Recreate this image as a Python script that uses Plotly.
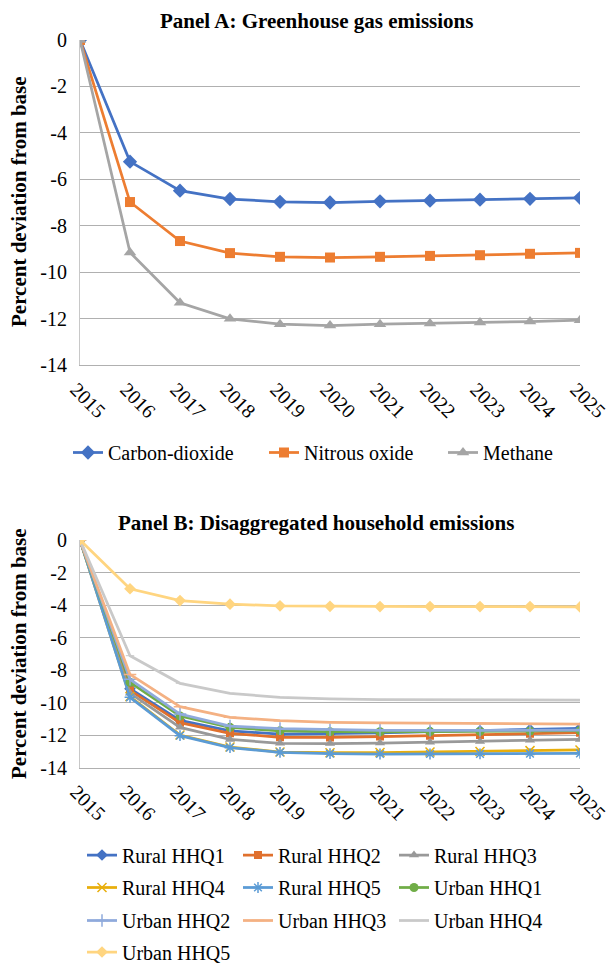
import plotly.graph_objects as go

years = [2015, 2016, 2017, 2018, 2019, 2020, 2021, 2022, 2023, 2024, 2025]

# Panel A
co2 = [0, -5.24, -6.49, -6.85, -6.97, -7.00, -6.95, -6.92, -6.88, -6.84, -6.80]
n2o = [0, -6.98, -8.66, -9.18, -9.34, -9.37, -9.34, -9.30, -9.27, -9.21, -9.17]
ch4 = [0, -9.15, -11.32, -12.01, -12.24, -12.30, -12.24, -12.21, -12.17, -12.13, -12.07]

# Panel B
rural_q1 = [0, -9.15, -11.10, -11.74, -11.95, -11.93, -11.87, -11.80, -11.74, -11.67, -11.59]
rural_q2 = [0, -9.25, -11.24, -11.90, -12.14, -12.15, -12.10, -12.05, -12.00, -11.93, -11.86]
rural_q3 = [0, -9.43, -11.53, -12.27, -12.51, -12.53, -12.50, -12.45, -12.40, -12.33, -12.27]
rural_q4 = [0, -9.64, -12.00, -12.74, -13.05, -13.09, -13.08, -13.05, -13.01, -12.96, -12.92]
rural_q5 = [0, -9.68, -12.04, -12.78, -13.07, -13.15, -13.17, -13.17, -13.16, -13.15, -13.13]
urban_q1 = [0, -8.76, -10.83, -11.53, -11.74, -11.80, -11.80, -11.79, -11.78, -11.76, -11.73]
urban_q2 = [0, -8.57, -10.71, -11.45, -11.61, -11.68, -11.71, -11.72, -11.72, -11.71, -11.70]
urban_q3 = [0, -8.27, -10.26, -10.91, -11.12, -11.22, -11.26, -11.28, -11.30, -11.31, -11.33]
urban_q4 = [0, -7.12, -8.82, -9.44, -9.68, -9.78, -9.82, -9.83, -9.84, -9.85, -9.85]
urban_q5 = [0, -3.00, -3.73, -3.95, -4.05, -4.08, -4.10, -4.10, -4.10, -4.10, -4.12]

y_ticks = [0, -2, -4, -6, -8, -10, -12, -14]

FONT = "Liberation Serif, Times New Roman, serif"
W, H = 613, 964
L, R = 80, 33
PW = W - L - R

def px_x(x):
    return (x - L) / PW

def px_y(y):
    return 1 - y / H

fig = go.Figure()

def add(x, y, name, color, symbol, size, xa, ya, legend, lw=None, mline=0):
    fig.add_trace(go.Scatter(
        x=x, y=y, name=name, mode="lines+markers",
        line=dict(color=color, width=2.75),
        marker=dict(symbol=symbol, size=size, color=color,
                    line=dict(color=color, width=mline)),
        xaxis=xa, yaxis=ya, legend=legend, legendwidth=lw,
    ))

# Panel A
add(years, co2, "Carbon-dioxide", "#4472C4", "diamond", 11, "x", "y", "legend", 151)
add(years, n2o, "Nitrous oxide", "#ED7D31", "square", 10, "x", "y", "legend", 134)
add(years, ch4, "Methane", "#A5A5A5", "triangle-up", 11, "x", "y", "legend", 78)

# Panel B
add(years, rural_q1, "Rural HHQ1", "#4472C4", "diamond", 9, "x2", "y2", "legend2", 111)
add(years, rural_q2, "Rural HHQ2", "#E0702D", "square", 8, "x2", "y2", "legend2", 111)
add(years, rural_q3, "Rural HHQ3", "#999999", "triangle-up", 9, "x2", "y2", "legend2", 111)
add(years, rural_q4, "Rural HHQ4", "#E8AE0C", "x-thin-open", 9, "x2", "y2", "legend3", 111, 1.5)
add(years, rural_q5, "Rural HHQ5", "#5B9BD5", "asterisk-open", 9, "x2", "y2", "legend3", 111, 1.5)
add(years, urban_q1, "Urban HHQ1", "#70AD47", "circle", 9, "x2", "y2", "legend3", 111)
add(years, urban_q2, "Urban HHQ2", "#8FAADC", "cross-thin-open", 9, "x2", "y2", "legend4", 111, 1.5)
add(years, urban_q3, "Urban HHQ3", "#F4B183", "line-ew-open", 9, "x2", "y2", "legend4", 111, 1.5)
add(years, urban_q4, "Urban HHQ4", "#C9C9C9", "line-ew-open", 6, "x2", "y2", "legend4", 111, 1)
add(years, urban_q5, "Urban HHQ5", "#FFD580", "diamond", 9, "x2", "y2", "legend5", 111)

grid = "#B0B0B0"
tickfont = dict(family=FONT, size=20, color="#000000")

domA = [px_y(365), px_y(40)]
domB = [px_y(767.5), px_y(540)]

xcommon = dict(range=[2015, 2025], tickmode="array", tickvals=years,
               ticktext=[str(v) for v in years], tickangle=45,
               tickfont=tickfont, showgrid=False, zeroline=False,
               showline=True, linecolor=grid, linewidth=1, ticks="",
               ticklabelstandoff=4, ticklabelshift=-4)
ycommon = dict(range=[-14, 0], tickmode="array", tickvals=y_ticks,
               ticktext=[str(v) for v in y_ticks], tickfont=tickfont,
               showgrid=True, gridcolor=grid, gridwidth=1, zeroline=False,
               showline=True, linecolor="#C8C8C8", linewidth=1,
               ticks="", ticklabelstandoff=8)

topaxis = dict(range=[2015, 2025], tickmode="array", tickvals=years,
               showticklabels=False, ticks="outside", ticklen=4,
               tickcolor=grid, side="top", showline=True, linecolor=grid,
               showgrid=False, zeroline=False)

legfont = dict(family=FONT, size=20, color="#000000")

def leg(xpx, top):
    return dict(orientation="h", xref="container", x=xpx / W, xanchor="left",
                yref="container", y=px_y(top), yanchor="top", font=legfont,
                bgcolor="rgba(0,0,0,0)", borderwidth=0, itemclick=False)

fig.update_layout(
    width=W, height=H,
    font=dict(family=FONT, size=20, color="#000000"),
    margin=dict(l=L, r=R, t=0, b=0, autoexpand=False),
    paper_bgcolor="white", plot_bgcolor="white",
    showlegend=True,
    xaxis=dict(domain=[0, 1], anchor="y", **xcommon),
    yaxis=dict(domain=domA, anchor="x", **ycommon),
    xaxis2=dict(domain=[0, 1], anchor="y2", **xcommon),
    yaxis2=dict(domain=domB, anchor="x2", **ycommon),
    xaxis3=dict(overlaying="x", anchor="y", matches="x", **topaxis),
    xaxis4=dict(overlaying="x2", anchor="y2", matches="x2", **topaxis),
    legend=leg(68, 433),
    legend2=leg(82, 835.5),
    legend3=leg(82, 868),
    legend4=leg(82, 901),
    legend5=leg(82, 932.5),
    annotations=[
        dict(text="<b>Panel A: Greenhouse gas emissions</b>", xref="paper", yref="paper",
             x=px_x(316), y=px_y(21), xanchor="center", yanchor="middle",
             showarrow=False, font=dict(family=FONT, size=21, color="#000000")),
        dict(text="<b>Panel B: Disaggregated household emissions</b>", xref="paper", yref="paper",
             x=px_x(316), y=px_y(523), xanchor="center", yanchor="middle",
             showarrow=False, font=dict(family=FONT, size=21, color="#000000")),
        dict(text="<b>Percent deviation from base</b>", xref="paper", yref="paper",
             x=px_x(19), y=px_y(202), xanchor="center", yanchor="middle", textangle=-90,
             showarrow=False, font=dict(family=FONT, size=21, color="#000000")),
        dict(text="<b>Percent deviation from base</b>", xref="paper", yref="paper",
             x=px_x(19), y=px_y(654), xanchor="center", yanchor="middle", textangle=-90,
             showarrow=False, font=dict(family=FONT, size=21, color="#000000")),
    ],
)

fig.write_html("out.html", config={"displayModeBar": False},
               post_script="document.body.style.margin='0px';")
